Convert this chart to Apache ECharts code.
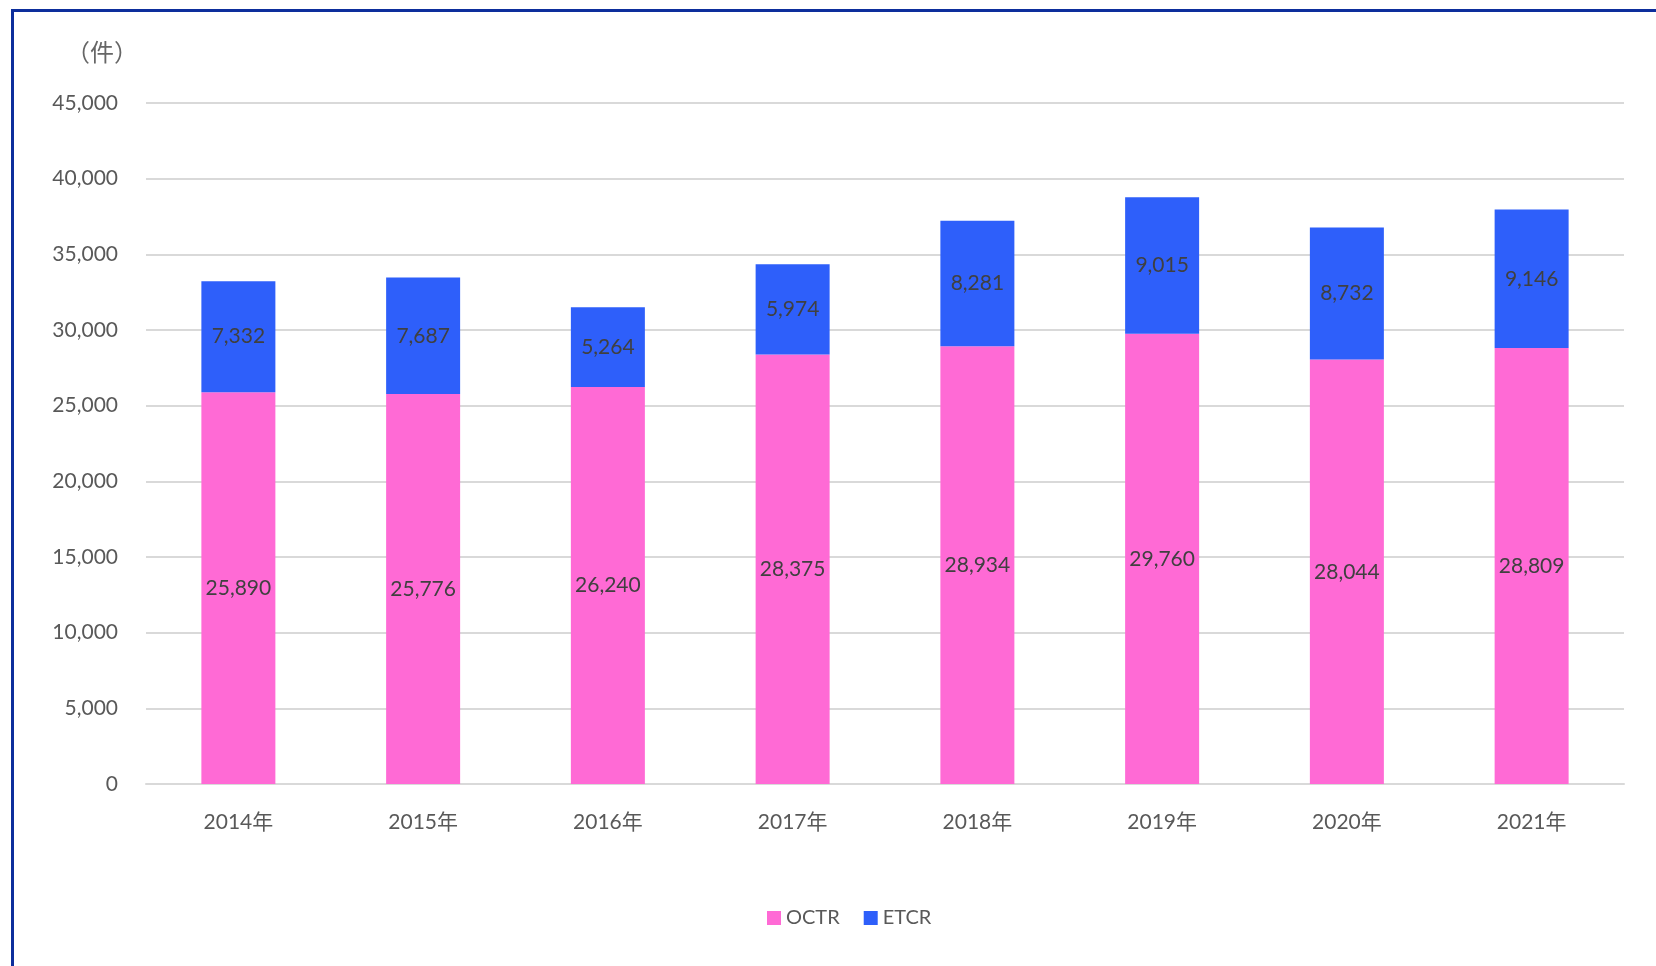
<!DOCTYPE html>
<html><head><meta charset="utf-8">
<script src="https://cdn.jsdelivr.net/npm/echarts@6/dist/echarts.min.js"></script>
<style>html,body{margin:0;padding:0;background:#fff}#c{width:1656px;height:966px}</style>
</head><body><div id="c"></div>
<script>
const categories = ['2014年','2015年','2016年','2017年','2018年','2019年','2020年','2021年'];
const octr = [25890, 25776, 26240, 28375, 28934, 29760, 28044, 28809];
const etcr = [7332, 7687, 5264, 5974, 8281, 9015, 8732, 9146];
const yTicks = {min: 0, max: 45000, interval: 5000};
const FONT = 'Lato, "Noto Sans CJK JP", sans-serif';
const chart = echarts.init(document.getElementById('c'));
chart.setOption({
  animation: false,
  textStyle: {fontFamily: FONT},
  graphic: [
    {type: 'rect', shape: {x: 11, y: 9, width: 1645, height: 3}, style: {fill: '#0D2E9C'}},
    {type: 'rect', shape: {x: 11, y: 9, width: 3, height: 957}, style: {fill: '#0D2E9C'}}
  ],
  grid: {left: 146, right: 32, top: 103, bottom: 182},
  legend: {
    data: ['OCTR', 'ETCR'], bottom: 33, left: 762,
    itemWidth: 14, itemHeight: 14, icon: 'rect', itemGap: 24,
    textStyle: {fontSize: 20, color: '#595959', fontFamily: FONT}
  },
  xAxis: {
    type: 'category', data: categories,
    axisLine: {lineStyle: {color: '#D9D9D9', width: 2}},
    axisTick: {show: false},
    axisLabel: {fontSize: 21, color: '#595959', margin: 28}
  },
  yAxis: {
    type: 'value', min: yTicks.min, max: yTicks.max, interval: yTicks.interval,
    name: '（件）', nameLocation: 'end', nameGap: 38,
    nameTextStyle: {fontSize: 24, color: '#666666', align: 'right', padding: [0, 8, 0, 0]},
    axisLine: {show: false}, axisTick: {show: false},
    axisLabel: {fontSize: 21, color: '#595959', margin: 28,
      formatter: v => v.toLocaleString('en-US')},
    splitLine: {lineStyle: {color: '#D9D9D9', width: 2}}
  },
  series: [
    {name: 'OCTR', type: 'bar', stack: 't', data: octr, barWidth: 74,
      itemStyle: {color: '#FF6AD5'},
      label: {show: true, position: 'inside', fontSize: 21, color: '#404040',
        formatter: p => p.value.toLocaleString('en-US')}},
    {name: 'ETCR', type: 'bar', stack: 't', data: etcr, barWidth: 74,
      itemStyle: {color: '#2E5FFA'},
      label: {show: true, position: 'inside', fontSize: 21, color: '#404040',
        formatter: p => p.value.toLocaleString('en-US')}}
  ]
});
</script></body></html>
